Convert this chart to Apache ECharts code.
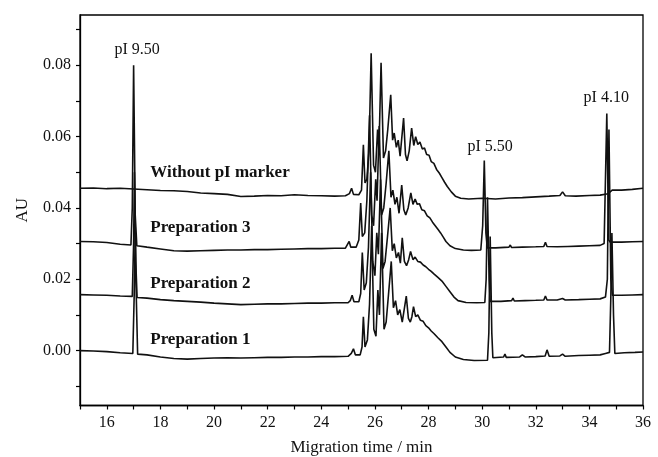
<!DOCTYPE html>
<html>
<head>
<meta charset="utf-8">
<script src="https://cdn.jsdelivr.net/npm/echarts@6/dist/echarts.min.js"></script>
<style>
  html, body { margin: 0; padding: 0; background: #fff; }
  #chart { width: 658px; height: 457px; }
</style>
</head>
<body>
<div id="chart"></div>
<script>
// electropherograms, [migration time (min), absorbance (AU)]
const withoutMarker = [
  [15.0,0.0455],[15.5,0.0456],[16.0,0.0454],[16.5,0.0455],[17.0,0.0453],[17.5,0.0451],[18.0,0.0449],[18.5,0.0448],
  [19.0,0.0446],[19.5,0.0442],[20.0,0.0440],[20.5,0.0438],[21.0,0.0432],[21.5,0.0433],[22.0,0.0435],[22.5,0.0434],
  [23.0,0.0437],[23.5,0.0435],[24.0,0.0434],[24.5,0.0433],[24.9,0.0434],[25.05,0.0440],[25.13,0.0455],[25.2,0.0438],
  [25.4,0.0437],[25.5,0.0450],[25.57,0.0577],[25.63,0.0470],[25.7,0.0480],[25.78,0.0560],[25.86,0.0834],[25.95,0.0520],
  [26.02,0.0500],[26.1,0.0620],[26.15,0.0560],[26.23,0.0807],[26.32,0.0540],[26.4,0.0560],[26.48,0.0620],[26.59,0.0717],
  [26.66,0.0590],[26.72,0.0610],[26.8,0.0570],[26.87,0.0590],[26.94,0.0545],[27.07,0.0652],[27.14,0.0550],[27.2,0.0532],
  [27.28,0.0560],[27.37,0.0624],[27.45,0.0575],[27.52,0.0600],[27.6,0.0578],[27.68,0.0585],[27.77,0.0565],[27.85,0.0568],
  [27.93,0.0550],[28.02,0.0548],[28.1,0.0530],[28.2,0.0525],[28.3,0.0508],[28.4,0.0498],[28.5,0.0485],[28.6,0.0472],
  [28.7,0.0460],[28.85,0.0445],[29.0,0.0433],[29.2,0.0427],[29.5,0.0425],[30.0,0.0427],[30.5,0.0425],[31.0,0.0428],
  [31.5,0.0429],[32.0,0.0431],[32.5,0.0433],[32.9,0.0435],[33.0,0.0445],[33.1,0.0434],[33.5,0.0433],[34.0,0.0435],
  [34.4,0.0436],[34.7,0.0440],[34.85,0.0450],[35.2,0.0450],[35.6,0.0452],[36.0,0.0455]
];

const preparation3 = [
  [15.0,0.0306],[15.5,0.0305],[16.0,0.0303],[16.5,0.0298],[16.9,0.0296],[16.95,0.0400],[17.0,0.0800],[17.06,0.0380],
  [17.12,0.0294],[17.5,0.0290],[18.0,0.0285],[18.5,0.0280],[19.0,0.0279],[19.5,0.0280],[20.0,0.0281],[20.5,0.0282],
  [21.0,0.0282],[21.5,0.0283],[22.0,0.0283],[22.5,0.0284],[23.0,0.0285],[23.5,0.0286],[24.0,0.0286],[24.5,0.0287],
  [24.9,0.0287],[24.97,0.0292],[25.04,0.0306],[25.1,0.0290],[25.3,0.0290],[25.4,0.0310],[25.47,0.0414],[25.53,0.0320],
  [25.62,0.0330],[25.7,0.0420],[25.8,0.0660],[25.88,0.0380],[25.95,0.0350],[26.03,0.0480],[26.08,0.0420],[26.16,0.0630],
  [26.25,0.0380],[26.33,0.0400],[26.42,0.0470],[26.52,0.0560],[26.6,0.0430],[26.67,0.0450],[26.75,0.0410],[26.82,0.0430],
  [26.9,0.0385],[27.0,0.0464],[27.08,0.0395],[27.15,0.0380],[27.24,0.0400],[27.34,0.0442],[27.42,0.0410],[27.5,0.0425],
  [27.58,0.0410],[27.66,0.0412],[27.75,0.0395],[27.85,0.0392],[27.95,0.0378],[28.05,0.0372],[28.15,0.0360],[28.25,0.0350],
  [28.35,0.0340],[28.45,0.0330],[28.55,0.0318],[28.65,0.0306],[28.8,0.0294],[29.0,0.0286],[29.3,0.0282],[29.6,0.0281],
  [29.95,0.0282],[30.02,0.0350],[30.08,0.0533],[30.14,0.0330],[30.19,0.0288],[30.5,0.0288],[31.0,0.0290],[31.05,0.0296],
  [31.1,0.0289],[31.5,0.0290],[32.0,0.0291],[32.3,0.0292],[32.36,0.0304],[32.42,0.0292],[32.8,0.0291],[33.2,0.0292],
  [33.6,0.0293],[34.0,0.0294],[34.4,0.0295],[34.55,0.0300],[34.65,0.0665],[34.72,0.0310],[34.78,0.0304],[35.2,0.0304],
  [35.6,0.0305],[36.0,0.0306]
];

const preparation2 = [
  [15.0,0.0157],[15.5,0.0156],[16.0,0.0155],[16.5,0.0153],[16.95,0.0152],[17.0,0.0300],[17.03,0.0500],[17.08,0.0250],
  [17.13,0.0149],[17.5,0.0147],[18.0,0.0143],[18.5,0.0140],[19.0,0.0138],[19.5,0.0136],[20.0,0.0133],[20.5,0.0131],
  [21.0,0.0129],[21.5,0.0130],[22.0,0.0131],[22.5,0.0131],[23.0,0.0132],[23.5,0.0133],[24.0,0.0133],[24.5,0.0134],
  [25.0,0.0134],[25.08,0.0140],[25.15,0.0155],[25.22,0.0137],[25.4,0.0137],[25.47,0.0160],[25.53,0.0275],[25.6,0.0170],
  [25.68,0.0190],[25.76,0.0290],[25.84,0.0500],[25.92,0.0250],[26.0,0.0210],[26.07,0.0330],[26.13,0.0270],[26.21,0.0480],
  [26.3,0.0230],[26.38,0.0250],[26.47,0.0320],[26.57,0.0400],[26.65,0.0280],[26.72,0.0300],[26.8,0.0260],[26.88,0.0275],
  [26.95,0.0245],[27.02,0.0316],[27.1,0.0250],[27.18,0.0238],[27.26,0.0255],[27.33,0.0278],[27.42,0.0255],[27.5,0.0262],
  [27.6,0.0250],[27.7,0.0248],[27.8,0.0240],[27.9,0.0235],[28.0,0.0228],[28.1,0.0222],[28.2,0.0215],[28.35,0.0205],
  [28.5,0.0195],[28.65,0.0180],[28.8,0.0165],[28.95,0.0150],[29.1,0.0140],[29.4,0.0135],[29.8,0.0134],[30.1,0.0135],
  [30.15,0.0200],[30.2,0.0430],[30.26,0.0200],[30.3,0.0138],[30.7,0.0138],[31.1,0.0140],[31.15,0.0147],[31.2,0.0139],
  [31.6,0.0140],[32.0,0.0141],[32.3,0.0142],[32.36,0.0153],[32.42,0.0142],[32.8,0.0142],[33.0,0.0146],[33.1,0.0142],
  [33.6,0.0143],[34.0,0.0144],[34.4,0.0145],[34.6,0.0150],[34.67,0.0200],[34.73,0.0620],[34.8,0.0200],[34.86,0.0155],
  [35.2,0.0155],[35.6,0.0156],[36.0,0.0157]
];

const preparation1 = [
  [15.0,0.0000],[15.5,-0.0001],[16.0,-0.0003],[16.5,-0.0006],[16.97,-0.0008],[17.02,0.0150],[17.06,0.0330],[17.1,0.0150],
  [17.15,-0.0010],[17.5,-0.0012],[18.0,-0.0018],[18.5,-0.0022],[19.0,-0.0024],[19.5,-0.0022],[20.0,-0.0021],[20.5,-0.0020],
  [21.0,-0.0021],[21.5,-0.0020],[22.0,-0.0019],[22.5,-0.0019],[23.0,-0.0018],[23.5,-0.0018],[24.0,-0.0017],[24.5,-0.0017],
  [25.0,-0.0016],[25.12,-0.0008],[25.2,0.0005],[25.27,-0.0012],[25.45,-0.0012],[25.52,0.0010],[25.57,0.0095],[25.63,0.0010],
  [25.72,0.0030],[25.8,0.0130],[25.88,0.0350],[25.96,0.0060],[26.04,0.0040],[26.11,0.0170],[26.17,0.0100],[26.25,0.0330],
  [26.34,0.0060],[26.42,0.0080],[26.51,0.0160],[26.61,0.0250],[26.69,0.0120],[26.77,0.0140],[26.85,0.0100],[26.93,0.0115],
  [27.02,0.0080],[27.17,0.0153],[27.25,0.0090],[27.32,0.0080],[27.38,0.0095],[27.44,0.0123],[27.52,0.0095],[27.6,0.0100],
  [27.7,0.0085],[27.8,0.0082],[27.9,0.0070],[28.0,0.0064],[28.1,0.0055],[28.2,0.0048],[28.35,0.0036],[28.5,0.0025],
  [28.65,0.0010],[28.8,-0.0005],[29.0,-0.0018],[29.3,-0.0025],[29.7,-0.0028],[30.2,-0.0027],[30.25,0.0050],[30.3,0.0320],
  [30.36,0.0050],[30.4,-0.0020],[30.8,-0.0018],[30.85,-0.0010],[30.9,-0.0019],[31.4,-0.0018],[31.5,-0.0012],[31.6,-0.0018],
  [32.0,-0.0017],[32.35,-0.0015],[32.42,0.0002],[32.5,-0.0016],[32.9,-0.0015],[33.0,-0.0010],[33.1,-0.0016],[33.6,-0.0014],
  [34.0,-0.0013],[34.4,-0.0012],[34.6,-0.0008],[34.75,-0.0005],[34.8,0.0150],[34.84,0.0330],[34.9,0.0100],[34.95,-0.0008],
  [35.3,-0.0006],[35.7,-0.0005],[36.0,-0.0004]
];

// axis ticks and labels
const xLabelValues = [16, 18, 20, 22, 24, 26, 28, 30, 32, 34, 36];
const xTickValues = [15, 16, 17, 18, 19, 20, 21, 22, 23, 24, 25, 26, 27, 28, 29, 30, 31, 32, 33, 34, 35, 36];
const yLabelValues = [0, 0.02, 0.04, 0.06, 0.08];
const yTickValues = [-0.01, 0, 0.01, 0.02, 0.03, 0.04, 0.05, 0.06, 0.07, 0.08, 0.09];

// text placed in data coordinates
const traceNames = ['Without pI marker', 'Preparation 3', 'Preparation 2', 'Preparation 1'];
const traceNamePos = [[17.62, 0.0500], [17.62, 0.0344], [17.62, 0.0187], [17.62, 0.0030]];
const markerNames = ['pI 9.50', 'pI 5.50', 'pI 4.10'];
const markerNamePos = [[17.13, 0.0843], [30.3, 0.0571], [34.63, 0.0708]];

const traces = [withoutMarker, preparation3, preparation2, preparation1];

const serif = 'Liberation Serif';
const chart = echarts.init(document.getElementById('chart'));

const option = {
    animation: false,
    backgroundColor: '#fff',
    grid: {
        left: 80,
        right: 15,
        top: 15,
        bottom: 51.5,
        outerBoundsMode: 'none',
        containLabel: false,
        show: true,
        borderColor: '#000',
        borderWidth: 1.3
    },
    xAxis: {
        type: 'value',
        min: 15,
        max: 36,
        name: 'Migration time / min',
        nameLocation: 'middle',
        nameGap: 34,
        nameTextStyle: { fontFamily: serif, fontSize: 17, color: '#111' },
        axisLine: { onZero: false, lineStyle: { color: '#000', width: 1.3 } },
        axisTick: {
            customValues: xTickValues,
            length: 4,
            lineStyle: { color: '#000', width: 1.2 }
        },
        axisLabel: {
            customValues: xLabelValues,
            margin: 9,
            fontFamily: serif,
            fontSize: 16,
            color: '#111'
        },
        splitLine: { show: false }
    },
    yAxis: {
        type: 'value',
        min: -0.0154,
        max: 0.0941,
        name: 'AU',
        nameLocation: 'middle',
        nameGap: 49,
        nameTextStyle: { fontFamily: serif, fontSize: 17, color: '#111' },
        axisLine: { show: true, onZero: false, lineStyle: { color: '#000', width: 1.3 } },
        axisTick: {
            show: true,
            customValues: yTickValues,
            length: 4,
            lineStyle: { color: '#000', width: 1.2 }
        },
        axisLabel: {
            customValues: yLabelValues,
            margin: 9,
            fontFamily: serif,
            fontSize: 16,
            color: '#111',
            formatter: v => v.toFixed(2)
        },
        splitLine: { show: false }
    },
    series: traces.map(d => ({
        type: 'line',
        data: d,
        showSymbol: false,
        symbol: 'none',
        lineStyle: { color: '#111', width: 1.6 },
        silent: true
    }))
};

chart.setOption(option);

// labels anchored to data coordinates
const texts = [];
traceNames.forEach((name, i) => {
    const p = chart.convertToPixel({ gridIndex: 0 }, traceNamePos[i]);
    texts.push({
        type: 'text',
        x: p[0],
        y: p[1],
        style: {
            text: name,
            fontFamily: serif,
            fontWeight: 'bold',
            fontSize: 17,
            fill: '#111',
            align: 'left',
            verticalAlign: 'middle'
        }
    });
});
markerNames.forEach((name, i) => {
    const p = chart.convertToPixel({ gridIndex: 0 }, markerNamePos[i]);
    texts.push({
        type: 'text',
        x: p[0],
        y: p[1],
        style: {
            text: name,
            fontFamily: serif,
            fontSize: 16,
            fill: '#111',
            align: 'center',
            verticalAlign: 'middle'
        }
    });
});
chart.setOption({ graphic: texts });
</script>
</body>
</html>
